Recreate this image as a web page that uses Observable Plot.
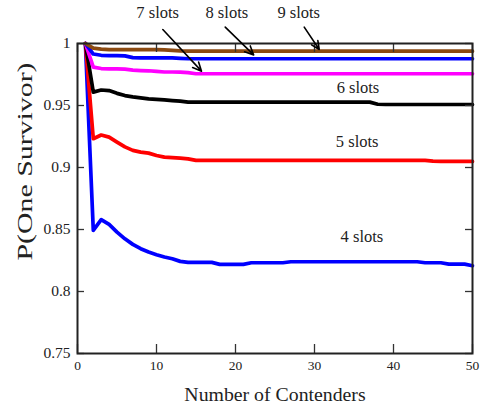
<!DOCTYPE html>
<html>
<head>
<meta charset="utf-8">
<script src="https://cdn.jsdelivr.net/npm/d3@7"></script>
<script src="https://cdn.jsdelivr.net/npm/@observablehq/plot@0.6"></script>
<style>
  html, body { margin: 0; padding: 0; background: #fff; }
  #chart svg { display: block; }
  #chart svg, #chart svg g, #chart svg text { font-family: "Liberation Serif", "Times New Roman", Times, "DejaVu Serif", serif !important; }
</style>
</head>
<body>
<div id="chart"></div>
<script>
const contenders = [1,2,3,4,5,6,7,8,9,10,11,12,13,14,15,16,17,18,19,20,21,22,23,24,25,26,27,28,29,30,31,32,33,34,35,36,37,38,39,40,41,42,43,44,45,46,47,48,49,50];

const slots4 = [1.0,0.8493,0.8579,0.8541,0.8479,0.8425,0.838,0.8345,0.8318,0.8297,0.8278,0.8264,0.8243,0.8235,0.8235,0.8235,0.8235,0.8219,0.8219,0.8219,0.8219,0.8232,0.8232,0.8232,0.8232,0.8232,0.824,0.824,0.824,0.824,0.824,0.824,0.824,0.824,0.824,0.824,0.824,0.824,0.824,0.824,0.824,0.824,0.824,0.8232,0.8232,0.8232,0.8221,0.8221,0.8221,0.8208];
const slots5 = [1.0,0.9232,0.9262,0.9245,0.9205,0.9166,0.9138,0.9124,0.9116,0.9097,0.9084,0.908,0.9076,0.907,0.9057,0.9057,0.9057,0.9057,0.9057,0.9057,0.9057,0.9057,0.9057,0.9057,0.9057,0.9057,0.9057,0.9057,0.9057,0.9057,0.9057,0.9057,0.9057,0.9057,0.9057,0.9057,0.9057,0.9057,0.9057,0.9057,0.9057,0.9057,0.9057,0.9057,0.9052,0.9049,0.9049,0.9049,0.9049,0.9049];
const slots6 = [1.0,0.9608,0.9625,0.962,0.9598,0.958,0.957,0.9562,0.9554,0.955,0.9545,0.954,0.9535,0.9527,0.9527,0.9527,0.9527,0.9527,0.9527,0.9527,0.9527,0.9527,0.9527,0.9527,0.9527,0.9527,0.9527,0.9527,0.9527,0.9527,0.9527,0.9527,0.9527,0.9527,0.9527,0.9527,0.9527,0.951,0.9508,0.9508,0.9508,0.9508,0.9508,0.9508,0.9508,0.9508,0.9508,0.9508,0.9508,0.9508];
const slots7 = [1.0,0.981,0.9798,0.9796,0.9796,0.9793,0.9785,0.9782,0.978,0.9775,0.977,0.977,0.9769,0.9765,0.9756,0.9756,0.9756,0.9756,0.9756,0.9756,0.9756,0.9756,0.9756,0.9756,0.9756,0.9756,0.9756,0.9756,0.9756,0.9756,0.9756,0.9756,0.9756,0.9756,0.9756,0.9756,0.9756,0.9756,0.9756,0.9756,0.9756,0.9756,0.9756,0.9756,0.9756,0.9756,0.9756,0.9756,0.9756,0.9756];
const slots8 = [1.0,0.9915,0.9905,0.9903,0.9903,0.99,0.9886,0.9884,0.9884,0.9884,0.9884,0.9884,0.988,0.9877,0.9877,0.9877,0.9877,0.9877,0.9877,0.9877,0.9877,0.9877,0.9877,0.9877,0.9877,0.9877,0.9877,0.9877,0.9877,0.9877,0.9877,0.9877,0.9877,0.9877,0.9877,0.9877,0.9877,0.9877,0.9877,0.9877,0.9877,0.9877,0.9877,0.9877,0.9877,0.9877,0.9877,0.9877,0.9877,0.9877];
const slots9 = [1.0,0.9962,0.9955,0.995,0.995,0.995,0.995,0.995,0.995,0.995,0.9948,0.9945,0.994,0.9938,0.9938,0.9938,0.9938,0.9938,0.9938,0.9938,0.9938,0.9938,0.9938,0.9938,0.9938,0.9938,0.9938,0.9938,0.9938,0.9938,0.9938,0.9938,0.9938,0.9938,0.9938,0.9938,0.9938,0.9938,0.9938,0.9938,0.9938,0.9938,0.9938,0.9938,0.9938,0.9938,0.9938,0.9938,0.9938,0.9938];

const seriesNames = ["4 slots","5 slots","6 slots","7 slots","8 slots","9 slots"];
const seriesValues = [slots4, slots5, slots6, slots7, slots8, slots9];
const seriesColors = ["#0000ff","#ff0000","#000000","#ff00ff","#0000ff","#8b4a12"];

const xTicks = [0,10,20,30,40,50];
const yTicks = [0.75,0.8,0.85,0.9,0.95,1];
const yTickLabels = ["0.75","0.8","0.85","0.9","0.95","1"];

const xLabel = "Number of Contenders";
const yLabel = "P(One Survivor)";

// in-plot labels (data coords)
const labelText = ["7 slots","8 slots","9 slots","6 slots","5 slots","4 slots"];
const labelX = [10.15, 18.9, 28.0, 35.5, 35.4, 36.0];
const labelY = [1.025, 1.025, 1.025, 0.9645, 0.9204, 0.8439];

// arrows (data coords)
const arrowX1 = [10.8, 18.7, 28.7];
const arrowY1 = [1.0113, 1.0132, 1.0132];
const arrowX2 = [15.7, 22.3, 30.6];
const arrowY2 = [0.9777, 0.9908, 0.9952];

const W = 488, H = 411;
const mL = 77, mR = 16, mT = 43, mB = 58;
const innerW = W - mL - mR, innerH = H - mT - mB;

const lineData = seriesValues.map((vals, k) =>
  vals.map((v, i) => ({x: contenders[i], y: v, s: seriesNames[k]})));
const labels = labelText.map((t, i) => ({t, x: labelX[i], y: labelY[i]}));
const arrows = arrowX1.map((_, i) => ({x1: arrowX1[i], y1: arrowY1[i], x2: arrowX2[i], y2: arrowY2[i]}));

const chart = Plot.plot({
  width: W, height: H,
  marginLeft: mL, marginRight: mR, marginTop: mT, marginBottom: mB,
  style: {background: "#fff", color: "#222", fontFamily: "'Liberation Serif', serif"},
  x: {domain: [0, 50], label: null},
  y: {domain: [0.75, 1], label: null},
  marks: [
    ...lineData.map((d, k) => Plot.line(d, {x: "x", y: "y", stroke: seriesColors[k], strokeWidth: 3.7, strokeLinejoin: "round"})),
    // inward ticks
    Plot.tickX(xTicks, {x: d => d, insetTop: innerH - 9, stroke: "#333", strokeWidth: 1.3}),
    Plot.tickX(xTicks, {x: d => d, insetBottom: innerH - 9, stroke: "#333", strokeWidth: 1.3}),
    Plot.tickY(yTicks, {y: d => d, insetRight: innerW - 7, stroke: "#333", strokeWidth: 1.3}),
    Plot.tickY(yTicks, {y: d => d, insetLeft: innerW - 7, stroke: "#333", strokeWidth: 1.3}),
    Plot.frame({stroke: "#222", strokeWidth: 2}),
    Plot.axisX({ticks: xTicks, tickSize: 0, tickPadding: 7, fontSize: 13.5, label: null, tickFormat: d => String(d)}),
    Plot.axisY({ticks: yTicks, tickSize: 0, tickPadding: 7, fontSize: 15.5, label: null, tickFormat: d => yTickLabels[yTicks.indexOf(d)]}),
    Plot.text(labels, {x: "x", y: "y", text: "t", fontSize: 16.5, fill: "#222"}),
    Plot.arrow(arrows, {x1: "x1", y1: "y1", x2: "x2", y2: "y2", stroke: "#000", strokeWidth: 1.6, headLength: 9, headAngle: 50}),
    Plot.text([xLabel], {frameAnchor: "bottom", dy: 47, fontSize: 19.8, fill: "#222"}),
    Plot.text([yLabel], {frameAnchor: "left", dx: -53, dy: 62, rotate: -90, textAnchor: "start", fontSize: 22, fill: "#222"})
  ]
});

d3.select(chart).selectAll("text")
  .filter(function() { return this.textContent === yLabel; })
  .attr("textLength", 198).attr("lengthAdjust", "spacingAndGlyphs");

document.getElementById("chart").appendChild(chart);
</script>
</body>
</html>
